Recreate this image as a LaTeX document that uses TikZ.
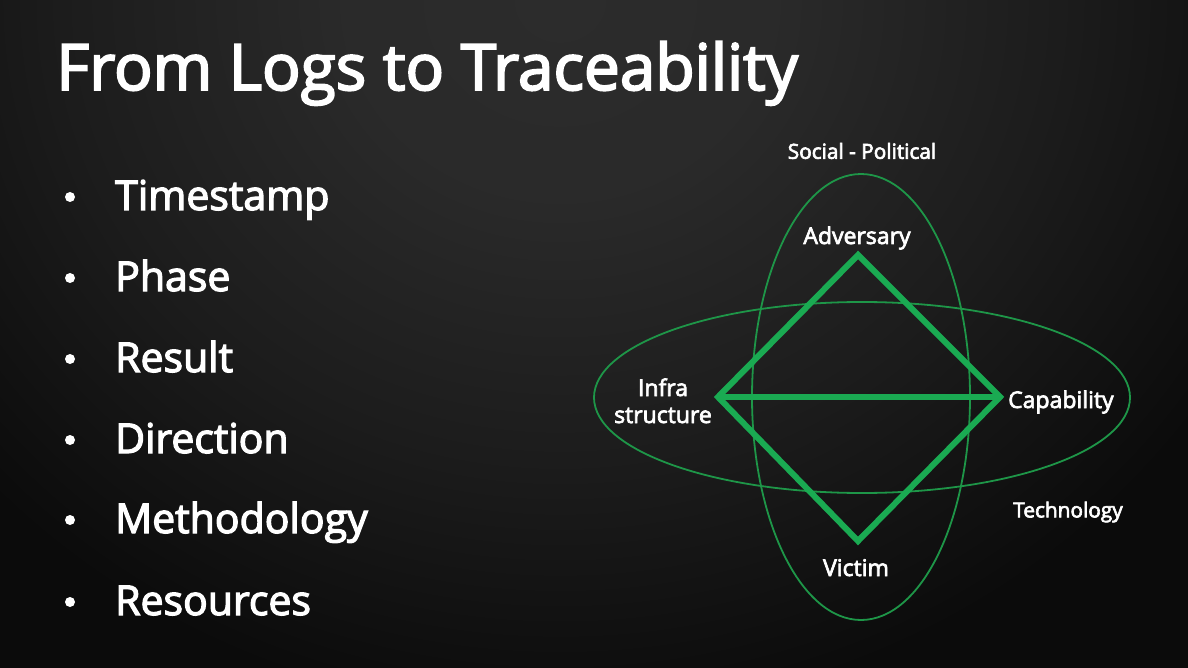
\documentclass[tikz,border=0pt]{standalone}
\usepackage{fontspec}
\setmainfont{Open Sans}[FakeBold=3]
\usetikzlibrary{shapes.geometric}
\definecolor{bgdark}{RGB}{11,11,11}
\definecolor{bgglow}{RGB}{44,44,44}
\definecolor{bgmid}{RGB}{28,28,28}
\definecolor{diagreen}{RGB}{26,170,82}
\definecolor{ringgreen}{RGB}{30,150,72}
% radial glow; the 25bp stop lands on the edge of the shaded ellipse
\pgfdeclareradialshading{topglow}{\pgfpoint{0bp}{0bp}}{color(0bp)=(bgglow); color(7bp)=(bgglow!85!bgmid); color(16bp)=(bgmid); color(25bp)=(bgdark); color(50bp)=(bgdark)}
\tikzset{
  titletext/.style={text=white, font=\fontsize{64}{70}\selectfont, anchor=base west, inner sep=0pt},
  itemtext/.style={text=white, font=\fontsize{41}{48}\selectfont, anchor=base west, inner sep=0pt},
  bulletdot/.style={circle, fill=white, inner sep=0pt, minimum size=10pt},
  vertexlabel/.style={text=white, font=\fontsize{23}{27}\selectfont, inner sep=0pt, align=center},
  domainlabel/.style={text=white, font=\fontsize{20.8}{24}\selectfont, inner sep=0pt},
  ring/.style={draw=ringgreen, line width=1.8pt, ellipse, inner sep=0pt},
  edgeline/.style={draw=diagreen, line width=6pt, line join=miter, line cap=butt}
}
\begin{document}
\begin{tikzpicture}[x=1pt, y=-1pt]
  % slide background with a soft glow at the top
  \fill[bgdark] (0,0) rectangle (1188,668);
  \begin{scope}
    \clip (0,0) rectangle (1188,668);
    \shade[shading=topglow] (560,0) ellipse [x radius=780, y radius=720];
  \end{scope}
  \useasboundingbox (0,0) rectangle (1188,668);

  % title
  \node[titletext] (title) at (56,90) {From Logs to Traceability};

  % bullet list
  \foreach \name/\label/\yb in {i1/Timestamp/210, i2/Phase/291, i3/Result/372,
                                i4/Direction/453, i5/Methodology/533, i6/Resources/615} {
    \node[bulletdot] (\name b) at (70,\yb-13) {};
    \node[itemtext] (\name) at (115,\yb) {\label};
  }

  % domain rings
  \node[ring, minimum width=218pt, minimum height=446pt] (social) at (861,397) {};
  \node[ring, minimum width=536pt, minimum height=191pt] (tech) at (862,397.5) {};

  % diamond corners
  \coordinate (adv) at (858,255);
  \coordinate (inf) at (718,397);
  \coordinate (cap) at (1000,397);
  \coordinate (vic) at (858,541);
  \draw[edgeline] (adv) -- (cap) -- (vic) -- (inf) -- cycle;
  \draw[edgeline] (inf) -- (cap);

  % labels
  \node[domainlabel] (sp) at (862,151) {Social - Political};
  \node[domainlabel] (techlabel) at (1068,512) {Technology};
  \node[vertexlabel, anchor=base] (advl) at (857,244) {Adversary};
  \node[vertexlabel, anchor=base west] (capl) at (1008,408) {Capability};
  \node[vertexlabel, anchor=base] (vicl) at (856,576) {Victim};
  \node[vertexlabel, anchor=base] (infl1) at (663,396) {Infra};
  \node[vertexlabel, anchor=base] (infl2) at (663,423) {structure};
\end{tikzpicture}
\end{document}
